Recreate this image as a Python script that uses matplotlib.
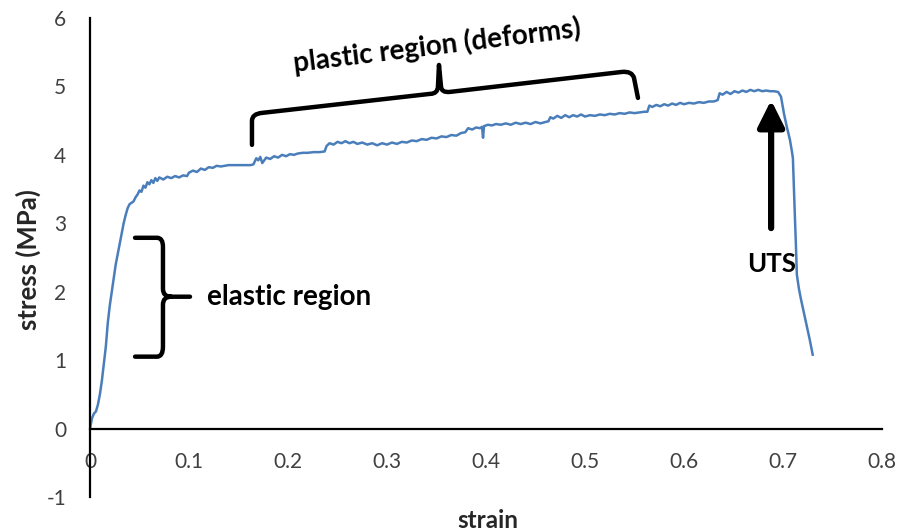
import matplotlib
matplotlib.use("Agg")
import matplotlib.pyplot as plt
from matplotlib.path import Path
from matplotlib.patches import PathPatch

plt.rcParams["font.family"] = ["Lato", "DejaVu Sans"]

# Tensile test record: strain (-) vs stress (MPa)
strain = [
    0.000, 0.002, 0.004, 0.006, 0.008, 0.010, 0.012, 0.014, 0.016, 0.018,
    0.020, 0.022, 0.024, 0.026, 0.028, 0.030, 0.032, 0.034, 0.036, 0.038,
    0.040, 0.042, 0.044, 0.046, 0.048, 0.050, 0.052, 0.054, 0.056, 0.058,
    0.060, 0.062, 0.064, 0.066, 0.068, 0.070, 0.074, 0.078, 0.082, 0.086,
    0.090, 0.094, 0.098, 0.100, 0.104, 0.108, 0.112, 0.116, 0.120, 0.124,
    0.128, 0.132, 0.140, 0.150, 0.162, 0.165, 0.168, 0.170, 0.172, 0.174,
    0.178, 0.182, 0.186, 0.190, 0.194, 0.198, 0.202, 0.206, 0.210, 0.215,
    0.220, 0.226, 0.232, 0.237, 0.239, 0.242, 0.246, 0.250, 0.254, 0.258,
    0.262, 0.266, 0.270, 0.275, 0.280, 0.285, 0.290, 0.295, 0.300, 0.305,
    0.310, 0.315, 0.320, 0.325, 0.330, 0.335, 0.340, 0.345, 0.350, 0.355,
    0.360, 0.365, 0.370, 0.375, 0.379, 0.382, 0.386, 0.390, 0.394, 0.396,
    0.397, 0.398, 0.402, 0.406, 0.410, 0.415, 0.420, 0.425, 0.430, 0.435,
    0.440, 0.445, 0.450, 0.455, 0.460, 0.463, 0.465, 0.468, 0.472, 0.476,
    0.480, 0.484, 0.488, 0.492, 0.496, 0.500, 0.505, 0.510, 0.515, 0.520,
    0.525, 0.530, 0.535, 0.540, 0.545, 0.550, 0.555, 0.560, 0.563, 0.565,
    0.568, 0.572, 0.576, 0.580, 0.584, 0.588, 0.592, 0.596, 0.600, 0.605,
    0.610, 0.615, 0.620, 0.625, 0.630, 0.634, 0.636, 0.639, 0.643, 0.647,
    0.651, 0.655, 0.659, 0.663, 0.667, 0.671, 0.675, 0.679, 0.683, 0.687,
    0.691, 0.695, 0.698, 0.701, 0.704, 0.707, 0.709, 0.710, 0.711, 0.712,
    0.713, 0.714, 0.716, 0.718, 0.721, 0.724, 0.727, 0.730,
]
stress = [
    0.00, 0.15, 0.22, 0.25, 0.35, 0.50, 0.70, 0.95, 1.20, 1.55,
    1.80, 2.00, 2.20, 2.40, 2.55, 2.70, 2.85, 3.00, 3.12, 3.22,
    3.28, 3.30, 3.32, 3.38, 3.42, 3.48, 3.46, 3.55, 3.52, 3.60,
    3.57, 3.63, 3.59, 3.66, 3.62, 3.67, 3.64, 3.68, 3.66, 3.69,
    3.67, 3.70, 3.69, 3.74, 3.77, 3.75, 3.80, 3.78, 3.82, 3.81,
    3.84, 3.83, 3.85, 3.85, 3.85, 3.86, 3.95, 3.92, 3.97, 3.88,
    3.96, 3.94, 3.98, 3.96, 4.00, 3.98, 4.01, 4.00, 4.02, 4.03,
    4.03, 4.04, 4.04, 4.05, 4.13, 4.17, 4.15, 4.19, 4.17, 4.20,
    4.17, 4.19, 4.16, 4.18, 4.15, 4.17, 4.14, 4.17, 4.15, 4.18,
    4.16, 4.19, 4.18, 4.21, 4.20, 4.23, 4.22, 4.25, 4.24, 4.27,
    4.26, 4.29, 4.28, 4.32, 4.33, 4.39, 4.37, 4.40, 4.39, 4.41,
    4.25, 4.42, 4.44, 4.43, 4.45, 4.44, 4.46, 4.44, 4.47, 4.45,
    4.47, 4.45, 4.48, 4.46, 4.48, 4.49, 4.55, 4.53, 4.57, 4.54,
    4.58, 4.55, 4.58, 4.56, 4.59, 4.56, 4.58, 4.57, 4.59, 4.58,
    4.60, 4.59, 4.61, 4.60, 4.62, 4.61, 4.62, 4.63, 4.63, 4.72,
    4.70, 4.73, 4.71, 4.74, 4.72, 4.75, 4.73, 4.76, 4.74, 4.76,
    4.75, 4.77, 4.76, 4.78, 4.78, 4.80, 4.90, 4.88, 4.92, 4.89,
    4.93, 4.91, 4.94, 4.92, 4.95, 4.93, 4.95, 4.93, 4.94, 4.93,
    4.93, 4.92, 4.85, 4.60, 4.40, 4.22, 4.05, 3.95, 3.50, 3.10,
    2.70, 2.25, 2.05, 1.90, 1.70, 1.50, 1.30, 1.08,
]

x_ticks = [0, 0.1, 0.2, 0.3, 0.4, 0.5, 0.6, 0.7, 0.8]
x_tick_labels = ["0", "0.1", "0.2", "0.3", "0.4", "0.5", "0.6", "0.7", "0.8"]
y_ticks = [-1, 0, 1, 2, 3, 4, 5, 6]
y_tick_labels = ["-1", "0", "1", "2", "3", "4", "5", "6"]

fig = plt.figure(figsize=(9.09, 5.31), dpi=100)
ax = fig.add_axes([90 / 909, 34 / 531, 792 / 909, 479 / 531])

ax.plot(strain, stress, color="#4A7EBB", lw=1.8, solid_joinstyle="round")

ax.set_xlim(0, 0.8)
ax.set_ylim(-1, 6)
ax.set_xticks(x_ticks, x_tick_labels)
ax.set_yticks(y_ticks, y_tick_labels)

for side in ("top", "right"):
    ax.spines[side].set_visible(False)
ax.spines["bottom"].set_position(("data", 0))
for side in ("left", "bottom"):
    ax.spines[side].set_linewidth(1.6)
    ax.spines[side].set_color("black")

ax.tick_params(axis="x", length=0, pad=17, labelsize=15, labelcolor="#404040")
ax.tick_params(axis="y", length=0, pad=17, labelsize=15, labelcolor="#404040")

fig.text(28 / 909, 1 - 260 / 531, "stress (MPa)", rotation=90, ha="center",
         va="center", fontsize=18.5, fontweight="bold", color="#262626")
fig.text(488 / 909, 1 - 520 / 531, "strain", ha="center", va="center",
         fontsize=17.5, fontweight="bold", color="#262626")

brace_kw = dict(fill=False, edgecolor="black", lw=3.2, capstyle="round",
                joinstyle="round", clip_on=False)

# curly brace spanning the elastic part of the curve
elastic_verts = [
    (0.0455, 2.788), (0.0677, 2.788), (0.0737, 2.788), (0.0737, 2.657),
    (0.0737, 2.044), (0.0737, 1.927), (0.0818, 1.927), (0.1010, 1.927),
    (0.0818, 1.927), (0.0737, 1.927), (0.0737, 1.810), (0.0737, 1.197),
    (0.0737, 1.051), (0.0677, 1.051), (0.0455, 1.051),
]
elastic_codes = [
    Path.MOVETO, Path.LINETO, Path.CURVE3, Path.CURVE3,
    Path.LINETO, Path.CURVE3, Path.CURVE3, Path.LINETO,
    Path.MOVETO, Path.CURVE3, Path.CURVE3, Path.LINETO,
    Path.CURVE3, Path.CURVE3, Path.LINETO,
]
ax.add_patch(PathPatch(Path(elastic_verts, elastic_codes), **brace_kw))

# tilted brace over the plastic part
plastic_verts = [
    (0.1636, 4.146), (0.1636, 4.496), (0.1636, 4.599), (0.1737, 4.613),
    (0.3434, 4.891), (0.3515, 4.891), (0.3515, 5.007), (0.3525, 5.314),
    (0.3545, 5.007), (0.3545, 4.905), (0.3636, 4.920), (0.5374, 5.212),
    (0.5475, 5.226), (0.5495, 5.124), (0.5535, 4.832),
]
plastic_codes = [
    Path.MOVETO, Path.LINETO, Path.CURVE3, Path.CURVE3,
    Path.LINETO, Path.CURVE3, Path.CURVE3, Path.LINETO,
    Path.LINETO, Path.CURVE3, Path.CURVE3, Path.LINETO,
    Path.CURVE3, Path.CURVE3, Path.LINETO,
]
ax.add_patch(PathPatch(Path(plastic_verts, plastic_codes), **brace_kw))

ax.text(0.118, 1.93, "elastic region", ha="left", va="center",
        fontsize=20, fontweight="bold", color="black")
ax.text(0.3505, 5.60, "plastic region (deforms)", ha="center", va="center",
        rotation=7, fontsize=20, fontweight="bold", color="black")

# arrow pointing at the ultimate tensile strength
ax.annotate("", xy=(0.688, 4.80), xytext=(0.688, 2.93),
            arrowprops=dict(arrowstyle="-|>", lw=4.5, color="black",
                            mutation_scale=40, shrinkA=0, shrinkB=0))
ax.text(0.689, 2.40, "UTS", ha="center", va="center", fontsize=18.5,
        fontweight="bold", color="black")

fig.savefig("out.png", dpi=100)
